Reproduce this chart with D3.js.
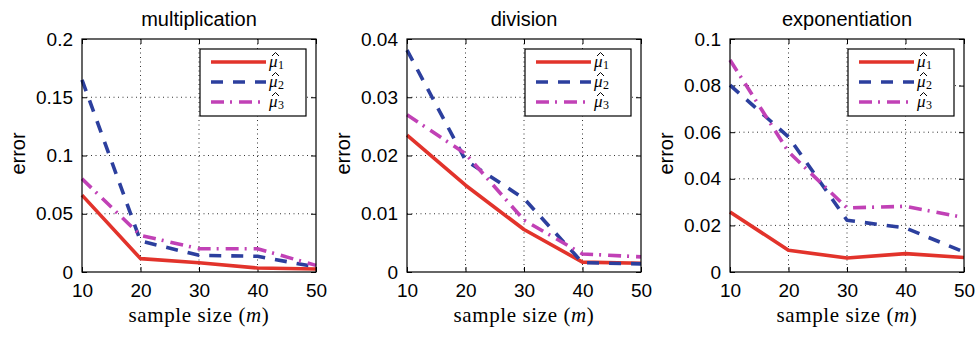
<!DOCTYPE html>
<html><head><meta charset="utf-8">
<script src="https://cdn.jsdelivr.net/npm/d3@7"></script>
<style>body{margin:0;background:#fff}svg{display:block}</style>
</head><body>
<svg id="c" width="979" height="337"></svg>
<script>
const sampleSizes = [10, 20, 30, 40, 50];
const panelTitles = ["multiplication", "division", "exponentiation"];
const seriesNames = ["1", "2", "3"];
const mulMu1 = [0.066, 0.0115, 0.008, 0.0034, 0.0026];
const mulMu2 = [0.165, 0.0266, 0.0143, 0.0135, 0.0043];
const mulMu3 = [0.080, 0.0315, 0.020, 0.020, 0.0057];
const divMu1 = [0.0235, 0.0149, 0.0073, 0.0017, 0.0015];
const divMu2 = [0.0381, 0.0192, 0.0126, 0.0016, 0.0014];
const divMu3 = [0.027, 0.0203, 0.0089, 0.0031, 0.0026];
const expMu1 = [0.0258, 0.0093, 0.006, 0.0079, 0.0062];
const expMu2 = [0.0802, 0.058, 0.0222, 0.0189, 0.0086];
const expMu3 = [0.091, 0.0516, 0.0275, 0.0282, 0.0234];
const yMax = [0.2, 0.04, 0.1];
const yTicks = [
  [0, 0.05, 0.1, 0.15, 0.2],
  [0, 0.01, 0.02, 0.03, 0.04],
  [0, 0.02, 0.04, 0.06, 0.08, 0.1]
];
const yTickLabels = [
  ["0", "0.05", "0.1", "0.15", "0.2"],
  ["0", "0.01", "0.02", "0.03", "0.04"],
  ["0", "0.02", "0.04", "0.06", "0.08", "0.1"]
];
const panelData = [[mulMu1, mulMu2, mulMu3], [divMu1, divMu2, divMu3], [expMu1, expMu2, expMu3]];

(function () {
const colors = ["#e2332b", "#2c3f9e", "#c141b6"];
const dashes = [null, "12,10", "13,6,2,7"];
const plotLefts = [82, 407, 730];
const W = 234, plotTop = 39, H = 233;
const sansFont = "'Liberation Sans', Arial, sans-serif";
const serifFont = "'Liberation Serif', 'Times New Roman', serif";

const svg = d3.select("#c");

panelData.forEach((series, p) => {
  const g = svg.append("g").attr("transform", `translate(${plotLefts[p]},${plotTop})`);
  const x = d3.scaleLinear().domain([10, 50]).range([0, W]);
  const y = d3.scaleLinear().domain([0, yMax[p]]).range([H, 0]);

  g.append("g").selectAll("line").data(sampleSizes.slice(1, -1)).join("line")
    .attr("x1", d => x(d)).attr("x2", d => x(d)).attr("y1", 0).attr("y2", H)
    .attr("stroke", "#333").attr("stroke-width", 1).attr("stroke-dasharray", "1,3.5");
  g.append("g").selectAll("line").data(yTicks[p].slice(1, -1)).join("line")
    .attr("x1", 0).attr("x2", W).attr("y1", d => y(d)).attr("y2", d => y(d))
    .attr("stroke", "#333").attr("stroke-width", 1).attr("stroke-dasharray", "1,3.5");

  const xa = g.append("g").attr("transform", `translate(0,${H})`)
    .call(d3.axisBottom(x).tickValues(sampleSizes).tickSizeInner(-5).tickSizeOuter(0).tickPadding(12));
  const ya = g.append("g")
    .call(d3.axisLeft(y).tickValues(yTicks[p]).tickFormat((d, i) => yTickLabels[p][i]).tickSizeInner(-5).tickSizeOuter(0).tickPadding(9));
  g.append("g").attr("transform", `translate(${W},0)`)
    .call(d3.axisRight(y).tickValues(yTicks[p]).tickSizeInner(-5).tickSizeOuter(0).tickFormat(""));
  g.append("g")
    .call(d3.axisTop(x).tickValues(sampleSizes).tickSizeInner(-5).tickSizeOuter(0).tickFormat(""));
  g.selectAll(".domain").remove();
  [xa, ya].forEach(a => a.selectAll("text").attr("font-family", sansFont).attr("font-size", 19).attr("fill", "#000"));
  g.selectAll(".tick line").attr("stroke", "#000");

  const line = d3.line().x((d, i) => x(sampleSizes[i])).y(d => y(d));
  series.forEach((vals, s) => {
    g.append("path").datum(vals).attr("d", line)
      .attr("fill", "none").attr("stroke", colors[s]).attr("stroke-width", 3.6)
      .attr("stroke-linejoin", "round")
      .attr("stroke-dasharray", dashes[s]);
  });

  g.append("rect").attr("x", 0).attr("y", 0).attr("width", W).attr("height", H)
    .attr("fill", "none").attr("stroke", "#000").attr("stroke-width", 1.2);

  g.append("text").attr("x", W / 2).attr("y", -13).attr("text-anchor", "middle")
    .attr("font-family", sansFont).attr("font-size", 20).text(panelTitles[p]);

  const xl = g.append("text").attr("x", W / 2).attr("y", H + 50).attr("text-anchor", "middle")
    .attr("font-family", serifFont).attr("font-size", 21).attr("letter-spacing", 0.6);
  xl.append("tspan").text("sample size (");
  xl.append("tspan").attr("font-style", "italic").text("m");
  xl.append("tspan").text(")");

  g.append("text").attr("transform", `translate(-57,${H / 2 - 2}) rotate(-90)`).attr("text-anchor", "middle")
    .attr("font-family", sansFont).attr("font-size", 20).text("error");

  const lw = 106, lh = 67;
  const lg = g.append("g").attr("transform", `translate(${W - 10 - lw},10)`);
  lg.append("rect").attr("width", lw).attr("height", lh).attr("fill", "#fff").attr("stroke", "#000").attr("stroke-width", 1.2);
  seriesNames.forEach((nm, s) => {
    const yy = 13 + s * 20;
    lg.append("line").attr("x1", 11).attr("x2", 66).attr("y1", yy).attr("y2", yy)
      .attr("stroke", colors[s]).attr("stroke-width", 3.6).attr("stroke-dasharray", dashes[s]);
    const base = yy + 5;
    const t = lg.append("text").attr("x", 69).attr("y", base)
      .attr("font-family", serifFont).attr("font-size", 17);
    t.append("tspan").attr("font-style", "italic").text("μ");
    t.append("tspan").attr("font-size", 12).attr("dy", 2).attr("dx", 0.5).text(nm);
    lg.append("path")
      .attr("d", `M${72},${base - 11} L${75.5},${base - 14.5} L${79},${base - 11}`)
      .attr("fill", "none").attr("stroke", "#000").attr("stroke-width", 1);
  });
});
})();
</script>
</body></html>
